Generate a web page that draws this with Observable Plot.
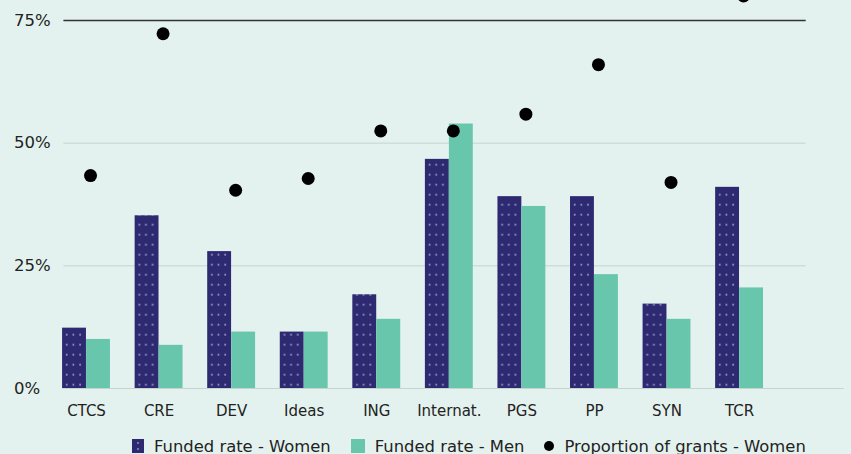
<!DOCTYPE html>
<html><head><meta charset="utf-8">
<script src="https://cdn.jsdelivr.net/npm/d3@7"></script>
<script src="https://cdn.jsdelivr.net/npm/@observablehq/plot@0.6"></script>
<style>
html,body{margin:0;padding:0;background:#e4f2ef;}
#chart{width:851px;height:454px;overflow:hidden;position:relative;font-family:"DejaVu Sans",sans-serif;}
.legend{display:flex;align-items:center;font-size:16.4px;color:#222;margin-left:132px;height:24px;margin-top:4px;white-space:nowrap}
.legend .sw{display:inline-block;margin-right:10px}
.legend .item{display:flex;align-items:center;margin-right:20px}
</style></head><body><div id="chart"></div>
<script>
const categories = ["CTCS","CRE","DEV","Ideas","ING","Internat.","PGS","PP","SYN","TCR"];
const fundedWomen = [12.3,35.2,27.9,11.5,19.1,46.7,39.1,39.1,17.2,41.0];
const fundedMen = [10.0,8.8,11.5,11.5,14.1,53.9,37.1,23.2,14.1,20.5];
const propWomen = [43.4,72.3,40.4,42.8,52.5,52.5,55.9,66.0,42.0,80.0];
const yTicks = [0,25,50,75];
const seriesLabels = ["Funded rate - Women","Funded rate - Men","Proportion of grants - Women"];

const NAVY="#2e2a72", TEAL="#68c6ac", BG="#e4f2ef", GRID="#c6d4d0";
const rows = categories.map((c,i)=>({category:c, women:fundedWomen[i], men:fundedMen[i], prop:propWomen[i]}));

const chart = Plot.plot({
  width: 851, height: 430,
  marginLeft: 37.4, marginRight: 63.3, marginTop: 20, marginBottom: 42,
  style: {background: BG, fontFamily: "'DejaVu Sans', sans-serif", color: "#222", overflow: "visible"},
  x: {domain: categories, padding: 0.34, round: false, label: null},
  y: {domain: [0, 75], label: null},
  marks: [
    Plot.ruleY(yTicks.slice(1, 3), {stroke: GRID, strokeWidth: 1, insetLeft: 26, insetRight: -18}),
    Plot.ruleY([0], {stroke: GRID, strokeWidth: 1, insetLeft: 25, insetRight: -56}),
    Plot.barY(rows, {x: "category", y: "women", fill: "url(#dotsPattern)", insetRight: 24}),
    Plot.barY(rows, {x: "category", y: "men", fill: TEAL, insetLeft: 24}),
    Plot.ruleY([75], {stroke: "#333", strokeWidth: 1.6, insetLeft: 26, insetRight: -18}),
    Plot.dot(rows, {x: "category", y: "prop", r: 6.5, fill: "#000", dx: 4}),
    Plot.axisY(yTicks, {tickSize: 0, tickPadding: 0, textAnchor: "start", dx: -24, tickFormat: d => d + "%", fontSize: 16.5, fill: "#222"}),
    Plot.axisX({tickSize: 0, tickPadding: 17, fontSize: 15, fill: "#222"})
  ]
});

// dotted pattern for the women bars
const ns = "http://www.w3.org/2000/svg";
const xs = chart.scale("x"), ys = chart.scale("y");
const bx0 = xs.apply(categories[0]);
const step = xs.apply(categories[1]) - xs.apply(categories[0]);
const y0 = ys.apply(0);
const defs = document.createElementNS(ns, "defs");
const pat = document.createElementNS(ns, "pattern");
pat.setAttribute("id", "dotsPattern");
pat.setAttribute("patternUnits", "userSpaceOnUse");
pat.setAttribute("x", bx0);
pat.setAttribute("y", y0 - 3.3 - 5);
pat.setAttribute("width", step);
pat.setAttribute("height", 10);
const bg = document.createElementNS(ns, "rect");
bg.setAttribute("width", step); bg.setAttribute("height", 10); bg.setAttribute("fill", NAVY);
pat.appendChild(bg);
[4.7, 11.3, 18].forEach(cx => {
  const c = document.createElementNS(ns, "circle");
  c.setAttribute("cx", cx); c.setAttribute("cy", 5); c.setAttribute("r", 1); c.setAttribute("fill", "#9a97c9");
  pat.appendChild(c);
});
defs.appendChild(pat);
chart.insertBefore(defs, chart.firstChild);

const root = document.getElementById("chart");
root.appendChild(chart);

// legend
const legend = document.createElement("div");
legend.className = "legend";
const swatches = [
  `<svg class="sw" width="12" height="14"><rect width="12" height="14" fill="${NAVY}"/><circle cx="6" cy="4" r="0.9" fill="#9a97c9"/><circle cx="6" cy="10" r="0.9" fill="#9a97c9"/></svg>`,
  `<svg class="sw" width="14" height="14"><rect width="14" height="14" fill="${TEAL}"/></svg>`,
  `<svg class="sw" width="10" height="10"><circle cx="5" cy="5" r="5" fill="#000"/></svg>`
];
seriesLabels.forEach((lab, i) => {
  const it = document.createElement("div");
  it.className = "item";
  it.innerHTML = swatches[i] + `<span>${lab}</span>`;
  legend.appendChild(it);
});
root.appendChild(legend);
</script></body></html>
